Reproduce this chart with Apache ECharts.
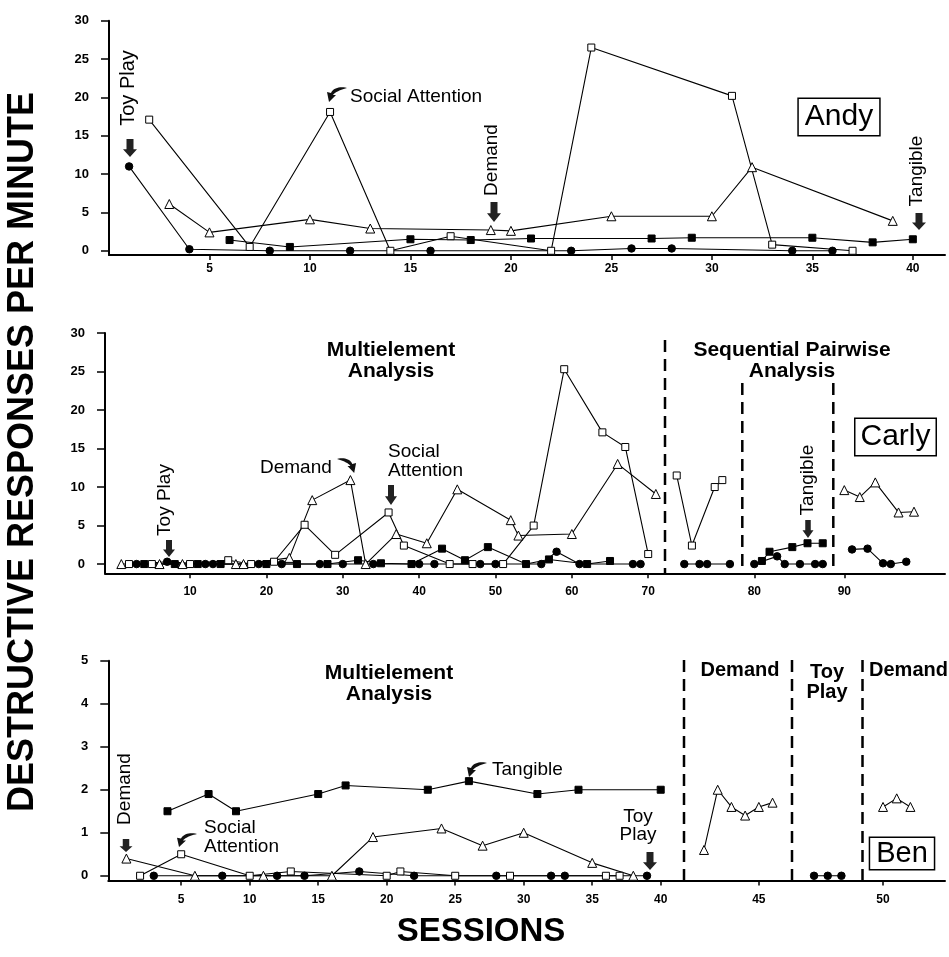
<!DOCTYPE html>
<html>
<head>
<meta charset="utf-8">
<script src="https://cdn.jsdelivr.net/npm/echarts@6/dist/echarts.min.js"></script>
<style>
  html, body { margin: 0; padding: 0; background: #fff; }
  #main { width: 949px; height: 957px; }
</style>
</head>
<body>
<div id="main"></div>
<script>
// [session, responses per minute]
const andyToyPlay = [[1,11],[4,0.2],[8,0],[12,0],[16,0],[23,0],[26,0.3],[28,0.3],[34,0],[36,0]];
const andySocial = [[2,17.1],[7,0.5],[11,18.1],[14,0],[17,1.9],[22,0],[24,26.5],[31,20.2],[33,0.8],[37,0]];
const andyDemand = [[3,6.1],[5,2.4],[10,4.1],[13,2.9],[19,2.7],[20,2.6],[25,4.5],[30,4.5],[32,10.9],[39,3.9]];
const andyTangible = [[6,1.4],[9,0.5],[15,1.5],[18,1.4],[21,1.6],[27,1.6],[29,1.7],[35,1.7],[38,1.1],[40,1.5]];

const carlyToyPlay = [[3,0],[7,0.3],[12,0],[13,0],[19,0],[22,0],[27,0],[30,0],[34,0],[40,0],[42,0],[48,0],[50,0],
  [56,0],[58,1.6],[61,0],[68,0],[69,0],
  [73,0],[75,0],[76,0],[79,0],
  [80,0],[83,1.0],[84,0],[86,0],[88,0],[89,0],
  [91,1.9],[93,2.0],[95,0.1],[96,0],[98,0.3]];
const carlySocial = [[2,0],[5,0],[10,0],[15,0.5],[18,0],[21,0.3],[25,5.1],[29,1.2],[36,6.7],[38,2.4],[44,0],[47,0],
  [51,0],[55,5.0],[59,25.3],[64,17.1],[67,15.2],[70,1.3],
  [72,11.5],[74,2.4],[77,10.0],[78,10.9]];
const carlyDemand = [[1,0],[6,0],[9,0],[16,0],[17,0],[23,0.8],[26,8.3],[31,10.9],[33,0],[37,3.9],[41,2.7],[45,9.7],
  [52,5.7],[53,3.7],[60,3.9],[66,13.0],[71,9.1],
  [90,9.6],[92,8.7],[94,10.6],[97,6.7],[99,6.8]];
const carlyTangible = [[4,0],[8,0],[11,0],[14,0],[20,0],[24,0],[28,0],[32,0.5],[35,0.1],[39,0],[43,2.0],[46,0.5],
  [49,2.2],[54,0],[57,0.6],[62,0],[65,0.4],
  [81,0.4],[82,1.6],[85,2.2],[87,2.7],[89,2.7]];

const benToyPlay = [[3,0],[8,0],[12,0],[14,0],[18,0.1],[22,0],[28,0],[32,0],[33,0],[39,0],[47,0],[48,0],[49,0]];
const benSocial = [[2,0],[5,0.5],[10,0],[13,0.1],[20,0],[21,0.1],[25,0],[29,0],[36,0],[37,0]];
const benDemand = [[1,0.4],[6,0],[11,0],[16,0],[19,0.9],[24,1.1],[27,0.7],[30,1.0],[35,0.3],[38,0],
  [41,0.6],[42,2.0],[43,1.6],[44,1.4],[45,1.6],[46,1.7],
  [50,1.6],[51,1.8],[52,1.6]];
const benTangible = [[4,1.5],[7,1.9],[9,1.5],[15,1.9],[17,2.1],[23,2.0],[26,2.2],[31,1.9],[34,2.0],[40,2.0]];

// tick labels
const andyXTicks = [5,10,15,20,25,30,35,40];
const carlyXTicks = [10,20,30,40,50,60,70,80,90];
const benXTicks = [5,10,15,20,25,30,35,40,45,50];
const andyYTicks = [0,5,10,15,20,25,30];
const carlyYTicks = [0,5,10,15,20,25,30];
const benYTicks = [0,1,2,3,4,5];

// phase changes (dashed lines) split the session axis
const carlyPhaseBreaks = [71.5, 79.5, 89.5];
const benPhaseBreaks = [40.5, 46.5, 49.5];

const FONT = '"Liberation Sans", Arial, Helvetica, sans-serif';

const condStyle = {
  demand:   { symbol: 'triangle', size: 9, fill: '#fff' },
  social:   { symbol: 'rect', size: 7, fill: '#fff' },
  tangible: { symbol: 'rect', size: 7, fill: '#000' },
  toy:      { symbol: 'circle', size: 7.5, fill: '#000' }
};

const panels = [
  {
    top: 20.7, bottom: 255, yMin: -0.55, yMax: 30, yTicks: andyYTicks, xTicks: andyXTicks, breaks: [], xMargin: 8,
    data: { demand: andyDemand, social: andySocial, tangible: andyTangible, toy: andyToyPlay },
    segs: [{ left: 109, right: 945, min: 0, max: 41.6 }]
  },
  {
    top: 333, bottom: 573.3, yMin: -1.2, yMax: 30, yTicks: carlyYTicks, xTicks: carlyXTicks, breaks: carlyPhaseBreaks, xMargin: 12,
    data: { demand: carlyDemand, social: carlySocial, tangible: carlyTangible, toy: carlyToyPlay },
    segs: [
      { left: 105, right: 665, min: -1.14, max: 72.2 },
      { left: 665, right: 742.3, min: 70.46, max: 80.63 },
      { left: 742.3, right: 833.3, min: 78.42, max: 90.39 },
      { left: 833.3, right: 945, min: 88.58, max: 103 }
    ]
  },
  {
    top: 660.7, bottom: 880.5, yMin: -0.11, yMax: 5, yTicks: benYTicks, xTicks: benXTicks, breaks: benPhaseBreaks, xMargin: 13,
    data: { demand: benDemand, social: benSocial, tangible: benTangible, toy: benToyPlay },
    segs: [
      { left: 108.3, right: 684, min: -0.32, max: 41.7 },
      { left: 684, right: 792, min: 39.54, max: 47.42 },
      { left: 792, right: 862.5, min: 45.39, max: 50.54 },
      { left: 862.5, right: 945, min: 48.5, max: 54.53 }
    ]
  }
];

const grids = [], xAxes = [], yAxes = [], series = [];

panels.forEach(p => {
  const bounds = [-Infinity].concat(p.breaks, [Infinity]);
  p.segs.forEach((s, i) => {
    const gi = grids.length;
    const lo = bounds[i], hi = bounds[i + 1];
    const ticks = p.xTicks.filter(t => t > lo && t < hi && t >= s.min && t <= s.max);
    grids.push({
      left: s.left, top: p.top, width: s.right - s.left, height: p.bottom - p.top,
      containLabel: false, outerBoundsMode: 'none'
    });
    xAxes.push({
      type: 'value', gridIndex: gi, min: s.min, max: s.max,
      axisLine: { onZero: false, lineStyle: { color: '#000', width: 2 } },
      axisTick: { show: ticks.length > 0, customValues: ticks, length: 5, lineStyle: { color: '#000', width: 1.5 } },
      axisLabel: {
        show: ticks.length > 0, customValues: ticks, margin: p.xMargin, color: '#000',
        fontFamily: FONT, fontWeight: 'bold', fontSize: 12
      },
      splitLine: { show: false }
    });
    yAxes.push({
      type: 'value', gridIndex: gi, min: p.yMin, max: p.yMax, show: i === 0,
      axisLine: { show: true, onZero: false, lineStyle: { color: '#000', width: 2 } },
      axisTick: { customValues: p.yTicks, length: 8, lineStyle: { color: '#000', width: 1.5 } },
      axisLabel: {
        customValues: p.yTicks, margin: 20, color: '#000',
        fontFamily: FONT, fontWeight: 'bold', fontSize: 13
      },
      splitLine: { show: false }
    });
    ['demand', 'social', 'tangible', 'toy'].forEach(key => {
      const st = condStyle[key];
      const pts = p.data[key].filter(d => d[0] > lo && d[0] < hi);
      if (!pts.length) return;
      series.push({
        type: 'line', xAxisIndex: gi, yAxisIndex: gi, data: pts,
        symbol: st.symbol, symbolSize: st.size, showSymbol: true,
        lineStyle: { color: '#000', width: 1.1 },
        itemStyle: { color: st.fill, borderColor: '#000', borderWidth: 1 },
        emphasis: { disabled: true }, silent: true
      });
    });
  });
});

// --- annotations ---
function txt(text, x, y, size, opt) {
  opt = opt || {};
  return {
    type: 'text', x: x, y: y, rotation: opt.rot ? Math.PI / 2 : 0, z: 100, silent: true,
    style: {
      text: text, fill: '#000', fontFamily: FONT, fontSize: size,
      fontWeight: opt.bold ? 'bold' : 'normal',
      textAlign: opt.align || 'center', textVerticalAlign: 'middle',
      lineHeight: opt.lh || size
    }
  };
}
function boxed(text, x, y, size, pad) {
  return {
    type: 'text', x: x, y: y, z: 100, silent: true,
    style: {
      text: text, fill: '#000', fontFamily: FONT, fontSize: size,
      textAlign: 'center', textVerticalAlign: 'middle',
      backgroundColor: '#fff', borderColor: '#000', borderWidth: 1.5, padding: pad
    }
  };
}
// block arrow pointing down, drawn in a 12 x 16 box
const DOWN = [[3,0],[9,0],[9,9],[12,9],[6,16],[0,9],[3,9]];
function downArrow(cx, y1, y2, w) {
  const sx = w / 12, sy = (y2 - y1) / 16;
  return {
    type: 'polygon', z: 100, silent: true,
    shape: { points: DOWN.map(q => [cx - w / 2 + q[0] * sx, y1 + q[1] * sy]) },
    style: { fill: '#222', stroke: null }
  };
}
// curled arrow, head at bottom-left, in a 22 x 15 box
function bez(p0, p1, p2, p3, n) {
  const out = [];
  for (let k = 0; k <= n; k++) {
    const t = k / n, u = 1 - t;
    out.push([
      u*u*u*p0[0] + 3*u*u*t*p1[0] + 3*u*t*t*p2[0] + t*t*t*p3[0],
      u*u*u*p0[1] + 3*u*u*t*p1[1] + 3*u*t*t*p2[1] + t*t*t*p3[1]
    ]);
  }
  return out;
}
const CURL = [].concat(
  bez([22,1],[15,-1],[8,1],[6,6],12),
  [[2,5],[4,15],[11,8]],
  bez([8,8],[10,5],[15,3],[22,1],12)
);
function curl(x, y, w, h, mirror) {
  const sx = w / 22, sy = h / 15;
  return {
    type: 'polygon', z: 100, silent: true,
    shape: { points: CURL.map(q => [x + (mirror ? 22 - q[0] : q[0]) * sx, y + q[1] * sy]) },
    style: { fill: '#111', stroke: null }
  };
}
function dash(x, y1, y2) {
  return {
    type: 'line', z: 50, silent: true,
    shape: { x1: x, y1: y1, x2: x, y2: y2 },
    style: { stroke: '#000', lineWidth: 2.5, lineDash: [12, 7] }
  };
}

const graphics = [
  // axis titles
  txt('DESTRUCTIVE RESPONSES PER MINUTE', 23, 452, 36, { rot: true, bold: true }),
  txt('SESSIONS', 481, 932, 33, { bold: true }),

  // Andy
  txt('Toy Play', 128, 88, 20, { rot: true }),
  downArrow(130, 139, 157, 14),
  curl(325, 87, 22, 15, false),
  txt('Social Attention', 350, 97, 19, { align: 'left' }),
  txt('Demand', 492, 160, 19, { rot: true }),
  downArrow(494, 202, 222, 14),
  txt('Tangible', 917, 171, 19, { rot: true }),
  downArrow(919, 213, 230, 14),
  boxed('Andy', 839, 117, 30, [3, 6]),

  // Carly
  txt('Multielement\nAnalysis', 391, 360.5, 21, { bold: true, lh: 21 }),
  txt('Sequential Pairwise\nAnalysis', 792, 360.5, 21, { bold: true, lh: 21 }),
  dash(665, 340, 573),
  dash(742.3, 383, 573),
  dash(833.3, 383, 573),
  txt('Toy Play', 165, 500, 19, { rot: true }),
  downArrow(169, 540, 557, 12),
  txt('Demand', 260, 468, 19, { align: 'left' }),
  curl(337, 458, 21, 15, true),
  txt('Social\nAttention', 388, 461, 19, { align: 'left', lh: 19 }),
  downArrow(391, 485, 505, 12),
  txt('Tangible', 808, 480, 19, { rot: true }),
  downArrow(808, 520, 538, 11),
  boxed('Carly', 895.5, 437, 30, [3, 5]),

  // Ben
  txt('Multielement\nAnalysis', 389, 683.5, 21, { bold: true, lh: 21 }),
  dash(684, 660, 881),
  dash(792, 660, 881),
  dash(862.5, 660, 881),
  txt('Demand', 740, 670, 20, { bold: true }),
  txt('Toy\nPlay', 827, 682, 20, { bold: true, lh: 20 }),
  txt('Demand', 908.5, 670, 20, { bold: true }),
  txt('Demand', 125, 789, 19, { rot: true }),
  downArrow(126, 839, 852, 13),
  curl(175, 833, 22, 14, false),
  txt('Social\nAttention', 204, 837.5, 19, { align: 'left', lh: 19 }),
  curl(465, 762, 22, 15, false),
  txt('Tangible', 492, 770, 19, { align: 'left' }),
  txt('Toy\nPlay', 638, 826, 19, { lh: 18 }),
  downArrow(650, 852, 870, 14),
  boxed('Ben', 902, 853.5, 29, [1, 6])
];

const chart = echarts.init(document.getElementById('main'));
chart.setOption({
  backgroundColor: '#fff',
  animation: false,
  grid: grids,
  xAxis: xAxes,
  yAxis: yAxes,
  series: series,
  graphic: graphics
});
</script>
</body>
</html>
